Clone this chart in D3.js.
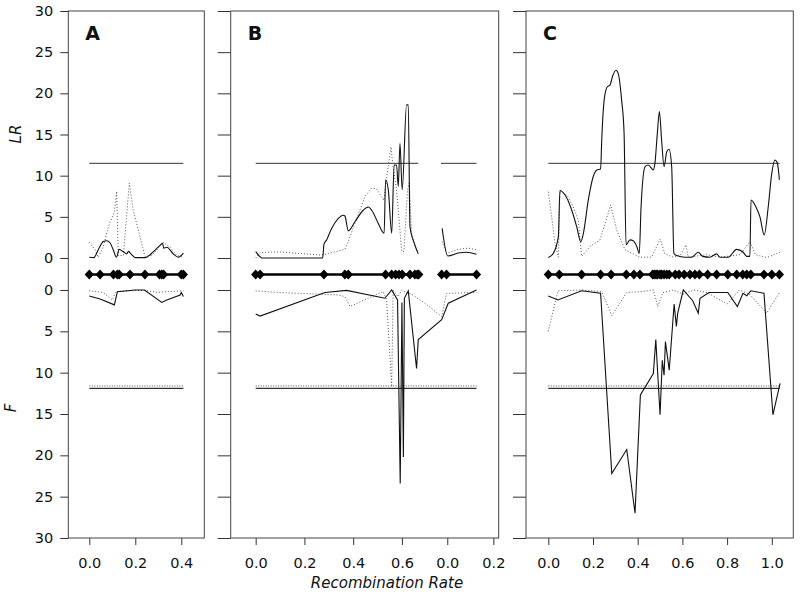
<!DOCTYPE html>
<html>
<head>
<meta charset="utf-8">
<script src="https://cdn.jsdelivr.net/npm/d3@7"></script>
<style>
  body { margin: 0; background: #fff; }
  svg text { font-family: "DejaVu Sans", "Open Sans", sans-serif; fill: #111; }
</style>
</head>
<body>
<svg id="chart" width="800" height="593"></svg>
<script>
// y tick values shared by all panels
var yTicks = [0, 5, 10, 15, 20, 25, 30];

// threshold levels
var lrThreshold = 11.5;
var fThresholdSolid = 11.9;
var fThresholdDotted = 11.6;

// ---- panel A ----
var aMarkers = [0, 0.047, 0.105, 0.122, 0.13, 0.177, 0.242, 0.305, 0.315, 0.323, 0.4, 0.409];
var aLrSolid = [[0,0.1],[0.02,0.05],[0.039,1.0],[0.061,2.0],[0.076,2.1],[0.09,1.85],[0.104,1.0],[0.118,0.1],
  [0.13,1.05],[0.148,0.75],[0.163,0.5],[0.17,0.8],[0.184,0.4],[0.2,0.05],[0.243,0.05],[0.28,0.8],[0.31,1.6],
  [0.319,1.8],[0.323,1.2],[0.337,1.3],[0.365,0.5],[0.387,0.1],[0.409,0.6]];
var aLrDotted = [[0,1.9],[0.025,1.0],[0.039,0.1],[0.061,1.4],[0.083,3.8],[0.097,4.8],[0.109,5.6],[0.119,8.1],
  [0.126,0.3],[0.148,0.3],[0.174,9.1],[0.191,5.8],[0.213,3.4],[0.242,0.2],[0.271,0.3],[0.307,1.4],[0.322,1.9],
  [0.351,1.3],[0.38,0.3],[0.409,0.1]];
var aFSolid = [[0,0.73],[0.047,1.1],[0.109,1.8],[0.122,0.2],[0.2,0],[0.24,0],[0.315,1.5],[0.337,1.2],[0.395,0.6],[0.4,0.3],[0.409,0.8]];
var aFDotted = [[0,0.1],[0.06,0.3],[0.1,1.2],[0.115,0.2],[0.2,0.05],[0.24,0.05],[0.3,0.3],[0.33,0.2],[0.409,0.1]];
var aTicks = [0, 0.2, 0.4];
var aTickLabels = ['0.0', '0.2', '0.4'];

// ---- panel B (two linkage groups on one axis, cumulative position) ----
var bMarkers1 = [0, 0.018, 0.28, 0.366, 0.38, 0.533, 0.558, 0.574, 0.588, 0.601, 0.633, 0.653, 0.663, 0.669];
var bMarkers2 = [0.763, 0.783, 0.906];
var bLrSolid1 = [[0,0.77],[0.018,0.15],[0.025,0],[0.275,0],[0.28,1.65],[0.291,2.2],[0.312,3.6],[0.339,4.8],
  [0.359,5.2],[0.366,5.1],[0.38,3.3],[0.407,4.4],[0.441,5.8],[0.462,6.2],[0.476,5.8],[0.503,4.2],[0.527,3.0],
  [0.533,9.5],[0.544,8.3],[0.558,3.0],[0.568,11.3],[0.578,11.3],[0.585,8.7],[0.592,13.9],[0.601,8.3],
  [0.619,18.6],[0.626,18.6],[0.633,3.8],[0.646,2.2],[0.667,0.5]];
var bLrSolid2 = [[0.765,3.6],[0.788,0.25],[0.831,0.6],[0.865,0.7],[0.906,0.45]];
var bLrDotted1 = [[0,0],[0.018,0.65],[0.093,0.75],[0.271,0.35],[0.366,1.05],[0.38,2.0],[0.407,4.2],[0.448,7.45],
  [0.476,8.5],[0.496,8.4],[0.517,7.4],[0.526,7.0],[0.537,9.7],[0.555,13.5],[0.564,11.0],[0.578,8.3],
  [0.599,0.8],[0.608,0.8],[0.623,8.3],[0.63,9.1],[0.64,2.6],[0.667,0.6]];
var bLrDotted2 = [[0.765,2.0],[0.783,0.55],[0.831,1.05],[0.872,1.2],[0.906,1.0]];
var bFSolid = [[0,2.9],[0.018,3.15],[0.284,0.3],[0.373,0.05],[0.53,1.0],[0.558,0],[0.582,1.2],[0.593,23.4],
  [0.6,1.5],[0.606,20.2],[0.61,1.0],[0.626,0.1],[0.66,9.5],[0.667,6.0],[0.763,3.6],[0.79,1.6],[0.906,0]];
var bFDotted = [[0,0.1],[0.093,0.3],[0.338,0.6],[0.366,0.8],[0.387,2.0],[0.476,0.8],[0.523,0.2],[0.537,1.2],
  [0.558,11.7],[0.564,0],[0.584,0.8],[0.599,0],[0.616,0.3],[0.64,0.5],[0.694,1.6],[0.763,3.2],[0.783,0.4],[0.906,0.3]];
var bTicks = [0, 0.2, 0.4, 0.6, 0.786, 0.975];
var bTickLabels = ['0.0', '0.2', '0.4', '0.6', '0.0', '0.2'];

// ---- panel C ----
var cMarkers = [0, 0.049, 0.149, 0.234, 0.281, 0.349, 0.383, 0.41, 0.467, 0.474, 0.482, 0.489, 0.5, 0.507, 0.518,
  0.53, 0.541, 0.568, 0.585, 0.608, 0.634, 0.656, 0.676, 0.713, 0.753, 0.803, 0.843, 0.87, 0.888, 0.906, 0.965, 1.0, 1.034];
var cLrSolid = [[0,0.05],[0.022,0.55],[0.045,2.6],[0.052,8.2],[0.075,7.65],[0.105,5.8],[0.127,3.8],[0.145,2.0],
  [0.157,3.0],[0.179,7.05],[0.201,9.9],[0.217,10.7],[0.234,10.8],[0.239,14.3],[0.25,19.2],[0.264,20.8],[0.276,21.0],
  [0.288,22.1],[0.303,22.8],[0.313,22.4],[0.328,19.2],[0.339,15.2],[0.348,1.6],[0.366,2.2],[0.38,2.1],[0.396,1.4],
  [0.407,0.55],[0.415,6.2],[0.433,11.1],[0.447,11.3],[0.47,10.7],[0.477,11.5],[0.488,15.2],[0.497,17.8],[0.507,14.3],
  [0.518,11.1],[0.53,12.9],[0.54,13.2],[0.552,11.1],[0.562,0.55],[0.574,0.3],[0.612,0.1],[0.642,0.1],[0.671,0.7],
  [0.691,0.2],[0.723,0.1],[0.753,0.5],[0.768,0.1],[0.805,0.1],[0.843,1.05],[0.872,0.7],[0.888,0.2],[0.902,0.2],
  [0.907,7.05],[0.929,6.2],[0.947,5.0],[0.966,2.8],[0.984,6.2],[1.0,10.3],[1.014,11.9],[1.025,11.5],[1.034,9.5]];
var cLrDotted = [[0,8.05],[0.015,5.0],[0.03,1.8],[0.045,0.1],[0.052,8.05],[0.084,7.6],[0.112,6.2],[0.134,4.6],
  [0.149,0.2],[0.187,1.4],[0.231,2.2],[0.254,4.2],[0.279,6.45],[0.306,3.4],[0.343,1.0],[0.379,0.5],[0.41,0.1],
  [0.463,0.1],[0.5,2.3],[0.522,0.5],[0.559,0.1],[0.589,0.3],[0.616,1.6],[0.626,0.1],[0.709,0.4],[0.768,0.1],
  [0.858,0.4],[0.902,2.0],[0.927,0.4],[0.977,0.05],[1.037,0.7]];
var cFSolid = [[0,0.73],[0.043,1.2],[0.149,0.1],[0.234,0.4],[0.284,22.2],[0.351,19.3],[0.388,27.0],[0.412,12.7],
  [0.47,10.1],[0.481,6.0],[0.5,15.1],[0.51,8.5],[0.518,10.3],[0.524,6.25],[0.541,9.7],[0.563,1.7],[0.573,4.4],
  [0.579,2.8],[0.604,0],[0.646,1.3],[0.671,2.8],[0.679,1.0],[0.719,0.3],[0.803,0.3],[0.846,2.0],[0.871,0.4],
  [0.888,0.7],[0.906,0.1],[0.965,0.4],[1.005,15.1],[1.037,11.3]];
var cFDotted = [[0,5.0],[0.043,0.1],[0.15,0],[0.239,0.2],[0.284,3.1],[0.351,0.3],[0.412,0.2],[0.47,0],[0.49,2.0],
  [0.513,0.3],[0.56,0],[0.604,0.5],[0.65,0],[0.71,0.3],[0.8,1.7],[0.855,0],[0.9,0.5],[0.977,2.8],[1.037,0.2]];
var cTicks = [0, 0.2, 0.4, 0.6, 0.8, 1.0];
var cTickLabels = ['0.0', '0.2', '0.4', '0.6', '0.8', '1.0'];

function drawChart() {
  var panels = [
    { name: 'A', left: 68.3, right: 204.3, domain: [-0.0913, 0.5], ticks: aTicks, labels: aTickLabels, markers: [aMarkers],
      lrSolid: [aLrSolid], lrDotted: [aLrDotted], fSolid: aFSolid, fDotted: aFDotted,
      lrThr: [[0, 0.409]], fThr: [0, 0.409], yLabels: true },
    { name: 'B', left: 230.7, right: 498.7, domain: [-0.1025, 0.997], ticks: bTicks, labels: bTickLabels, markers: [bMarkers1, bMarkers2],
      lrSolid: [bLrSolid1, bLrSolid2], lrDotted: [bLrDotted1, bLrDotted2], fSolid: bFSolid, fDotted: bFDotted,
      lrThr: [[0, 0.667], [0.76, 0.906]], fThr: [0, 0.906], yLabels: false },
    { name: 'C', left: 526, right: 793.3, domain: [-0.0998, 1.0962], ticks: cTicks, labels: cTickLabels, markers: [cMarkers],
      lrSolid: [cLrSolid], lrDotted: [cLrDotted], fSolid: cFSolid, fDotted: cFDotted,
      lrThr: [[0, 1.035]], fThr: [0, 1.035], yLabels: false }
  ];

  var plotTop = 11, plotBottom = 538;
  var yLR = d3.scaleLinear().domain([0, 30]).range([258, plotTop]);
  var yF = d3.scaleLinear().domain([0, 30]).range([290, plotBottom]);
  var markerY = 274.5;
  var diamond = 'M0,-5L4.6,0L0,5L-4.6,0Z';

  var svg = d3.select('#chart');

  panels.forEach(function(p) {
    var x = d3.scaleLinear().domain(p.domain).range([p.left, p.right]);
    var g = svg.append('g');

    var lineSmooth = d3.line().x(function(d) { return x(d[0]); }).y(function(d) { return yLR(d[1]); }).curve(d3.curveMonotoneX);
    var lineLR = d3.line().x(function(d) { return x(d[0]); }).y(function(d) { return yLR(d[1]); });
    var lineF = d3.line().x(function(d) { return x(d[0]); }).y(function(d) { return yF(d[1]); });

    // left axis ticks
    var tickLen = p.yLabels ? 8 : 13;
    [yLR, yF].forEach(function(ys) {
      var ax = d3.axisLeft(ys).tickValues(yTicks).tickSize(tickLen).tickPadding(7);
      if (!p.yLabels) ax.tickFormat('');
      var a = g.append('g').attr('transform', 'translate(' + p.left + ',0)').call(ax);
      a.select('.domain').remove();
      a.selectAll('line').attr('stroke', '#333');
      a.selectAll('text').attr('font-size', '14.5px').attr('fill', '#111');
    });

    // bottom axis
    var bx = d3.axisBottom(x).tickValues(p.ticks).tickSize(7).tickPadding(13)
      .tickFormat(function(d, i) { return p.labels[i]; });
    var b = g.append('g').attr('transform', 'translate(0,' + plotBottom + ')').call(bx);
    b.select('.domain').remove();
    b.selectAll('line').attr('stroke', '#333');
    b.selectAll('text').attr('font-size', '14.5px').attr('fill', '#111');

    // frame
    g.append('rect').attr('x', p.left).attr('y', plotTop).attr('width', p.right - p.left).attr('height', plotBottom - plotTop)
      .attr('fill', 'none').attr('stroke', '#444').attr('stroke-width', 1);

    // thresholds
    p.lrThr.forEach(function(r) {
      g.append('line').attr('x1', x(r[0])).attr('x2', x(r[1])).attr('y1', yLR(lrThreshold)).attr('y2', yLR(lrThreshold))
        .attr('stroke', '#333').attr('stroke-width', 1);
    });
    g.append('line').attr('x1', x(p.fThr[0])).attr('x2', x(p.fThr[1])).attr('y1', yF(fThresholdDotted)).attr('y2', yF(fThresholdDotted))
      .attr('stroke', '#555').attr('stroke-width', 1).attr('stroke-dasharray', '1,1.5');
    g.append('line').attr('x1', x(p.fThr[0])).attr('x2', x(p.fThr[1])).attr('y1', yF(fThresholdSolid)).attr('y2', yF(fThresholdSolid))
      .attr('stroke', '#333').attr('stroke-width', 1.2);

    // curves
    p.lrDotted.forEach(function(d) {
      g.append('path').attr('d', lineLR(d)).attr('fill', 'none').attr('stroke', '#555')
        .attr('stroke-width', 1).attr('stroke-dasharray', '1,2');
    });
    p.lrSolid.forEach(function(d) {
      g.append('path').attr('d', lineSmooth(d)).attr('fill', 'none').attr('stroke', '#111').attr('stroke-width', 1.1);
    });
    g.append('path').attr('d', lineF(p.fDotted)).attr('fill', 'none').attr('stroke', '#555')
      .attr('stroke-width', 1).attr('stroke-dasharray', '1,2');
    g.append('path').attr('d', lineF(p.fSolid)).attr('fill', 'none').attr('stroke', '#111').attr('stroke-width', 1.1);

    // marker rows
    p.markers.forEach(function(m) {
      g.append('line').attr('x1', x(m[0])).attr('x2', x(m[m.length - 1])).attr('y1', markerY).attr('y2', markerY)
        .attr('stroke', '#000').attr('stroke-width', 2.5);
      g.selectAll(null).data(m).join('path')
        .attr('d', diamond)
        .attr('transform', function(d) { return 'translate(' + x(d) + ',' + markerY + ')'; })
        .attr('fill', '#000');
    });

    // panel letter
    g.append('text').attr('x', p.left + 17).attr('y', 40).text(p.name)
      .attr('font-family', '"Liberation Sans", Arial, sans-serif').attr('font-weight', 'bold').attr('font-size', '19px');
  });

  // axis titles
  svg.append('text').attr('transform', 'translate(21,134) rotate(-90)').attr('text-anchor', 'middle')
    .attr('font-size', '15px').attr('font-style', 'italic').text('LR');
  svg.append('text').attr('transform', 'translate(16,408) rotate(-90)').attr('text-anchor', 'middle')
    .attr('font-size', '15px').attr('font-style', 'italic').text('F');
  svg.append('text').attr('x', 387).attr('y', 588).attr('text-anchor', 'middle')
    .attr('font-size', '15px').attr('font-style', 'italic').text('Recombination Rate');
}

drawChart();
</script>
</body>
</html>
